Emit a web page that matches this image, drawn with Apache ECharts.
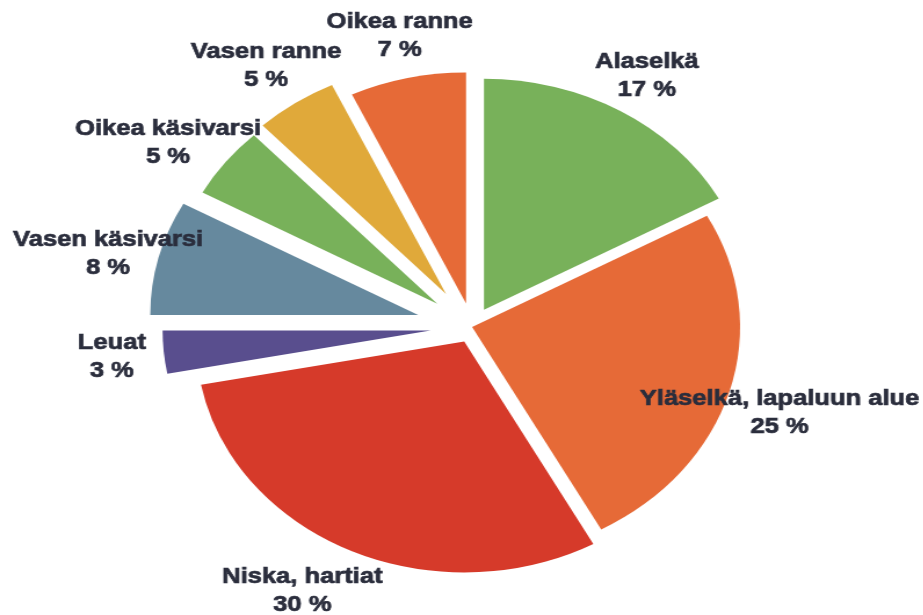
<!DOCTYPE html>
<html>
<head>
<meta charset="utf-8">
<script src="https://cdn.jsdelivr.net/npm/echarts@6/dist/echarts.min.js"></script>
<style>
  html, body { margin: 0; padding: 0; background: #ffffff; overflow: hidden; }
  #wrap { width: 923px; height: 615px; overflow: hidden; }
  /* the chart is laid out round and then widened into an oval */
  #chart { width: 796px; height: 615px; transform: scaleX(1.16); transform-origin: 0 0; }
</style>
</head>
<body>
<div id="wrap"><div id="chart"></div></div>
<script>
// Share of reported pain by body area (%)
const categories = [
  'Alaselkä',
  'Yläselkä, lapaluun alue',
  'Niska, hartiat',
  'Leuat',
  'Vasen käsivarsi',
  'Oikea käsivarsi',
  'Vasen ranne',
  'Oikea ranne'
];
const shares = [17, 25, 30, 3, 8, 5, 5, 7];

// slice styling
const sliceColors = ['#78B15A', '#E66A37', '#D63A2A', '#594E8E', '#66899E', '#78B15A', '#E0A93A', '#E66A37'];
const explode = [20, 0, 16, 36, 48, 38, 40, 24];   // pull-out of each slice, px
const labelShift = [[0, 4], [0, 9], [-22, 0], [0, 1], [0, 8], [-14, 8], [0, 0], [3, 2]];

const CX = 407, CY = 327, R = 231, LABEL_DIST = 276;
const TEXT = '#2A2D3C';

const total = shares.reduce((a, b) => a + b, 0);
let acc = 0;
const mids = shares.map(v => {
  const m = (acc + v / 2) / total * 2 * Math.PI;
  acc += v;
  return m;
});

const series = [];
categories.forEach((name, i) => {
  const cx = CX + explode[i] * Math.sin(mids[i]);
  const cy = CY - explode[i] * Math.cos(mids[i]);
  // the slice itself
  series.push({
    type: 'pie',
    center: [cx, cy],
    radius: [0, R],
    startAngle: 90,
    clockwise: true,
    silent: true,
    avoidLabelOverlap: false,
    label: { show: false },
    labelLine: { show: false },
    data: categories.map((n, j) => ({
      name: n,
      value: shares[j],
      itemStyle: { color: j === i ? sliceColors[j] : 'rgba(0,0,0,0)' }
    }))
  });
  // its caption, centred out along the slice's middle
  series.push({
    type: 'pie',
    center: [cx + labelShift[i][0], cy + labelShift[i][1]],
    radius: [0, 2 * (LABEL_DIST - 3)],
    startAngle: 90,
    clockwise: true,
    silent: true,
    avoidLabelOverlap: false,
    labelLayout: { hideOverlap: false, moveOverlap: null },
    labelLine: { show: false },
    data: categories.map((n, j) => ({
      name: n,
      value: shares[j],
      itemStyle: { color: 'rgba(0,0,0,0)' },
      label: {
        show: j === i,
        position: 'inside',
        formatter: '{b}\n{c} %',
        color: TEXT,
        fontFamily: 'Liberation Sans, Arial, sans-serif',
        fontWeight: 'bold',
        fontSize: 22,
        lineHeight: 28,
        align: 'center',
        textBorderColor: TEXT,
        textBorderWidth: 0.7
      }
    }))
  });
});

const chart = echarts.init(document.getElementById('chart'), null, { renderer: 'canvas' });
chart.setOption({
  animation: false,
  backgroundColor: '#ffffff',
  series: series
});
</script>
</body>
</html>
